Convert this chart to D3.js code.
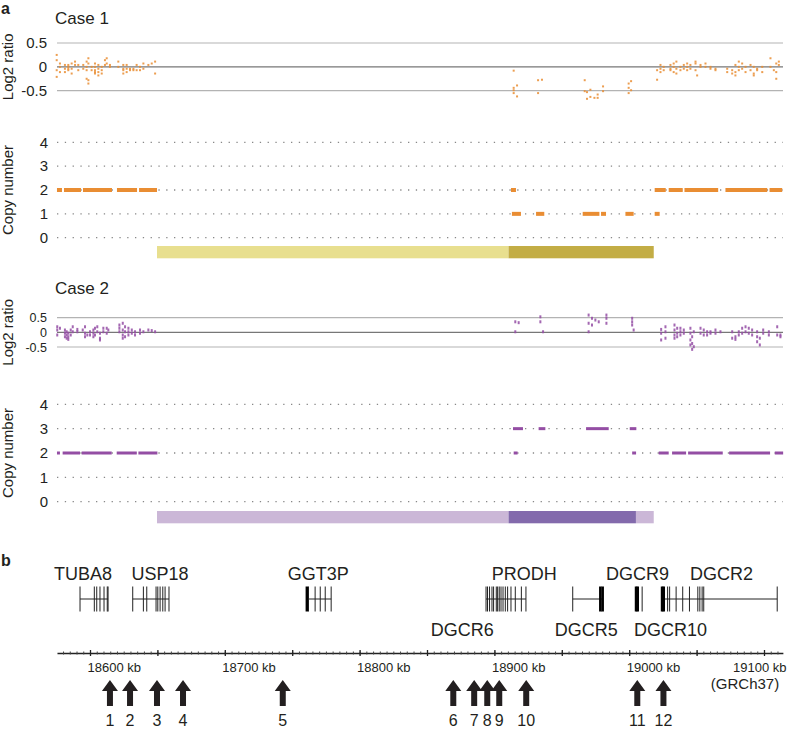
<!DOCTYPE html>
<html>
<head>
<meta charset="utf-8">
<script src="https://cdn.jsdelivr.net/npm/d3@7"></script>
<style>
  body { margin: 0; background: #fff; }
  svg text { font-family: "Liberation Sans", Arial, sans-serif; fill: #231f20; }
</style>
</head>
<body>
<div id="chart"></div>
<script>
// chart size
var svgWidth = 787;
var svgHeight = 732;

// log2 ratio probes, case 1 : [kb, values...]
var case1Log2 = [
  [18575.3, 0.25, 0.14, -0.07, -0.21], [18577.7, 0.07, 0, -0.11], [18581.4, 0.04, -0.04, -0.11],
  [18583.9, 0.04, 0, -0.04, -0.07], [18586.4, 0.07, -0.04, -0.14], [18588.9, 0.11, 0.04],
  [18591.3, 0.04, -0.07], [18595.0, 0.04, -0.04], [18597.5, 0.11, 0, -0.07, -0.25],
  [18598.8, 0.18, 0.07, -0.28, -0.35], [18601.2, 0, -0.07], [18603.7, 0.07, 0, -0.07, -0.11, -0.14],
  [18606.2, 0.04, -0.04, -0.11, -0.18], [18608.7, 0, -0.07, -0.14], [18611.1, 0.14, 0.04],
  [18612.4, 0.18, 0.07], [18614.8, 0.04, 0], [18621.0, 0.11, 0], [18624.7, 0.04, -0.04, -0.07, -0.14],
  [18627.2, 0.04, -0.04, -0.11], [18629.7, -0.04, -0.07], [18632.2, -0.04, -0.07], [18634.6, 0.04, -0.07],
  [18637.1, 0, -0.07], [18639.6, 0.07, -0.04], [18643.3, 0.04], [18645.8, 0.07], [18648.3, 0.11, -0.14],
  [18914.3, -0.08, -0.44, -0.49, -0.55], [18916.8, -0.39, -0.62], [18932.4, -0.28, -0.55], [18935.3, -0.27],
  [18967.0, -0.28, -0.51], [18968.7, -0.53, -0.67], [18971.2, -0.48, -0.63], [18974.2, -0.65],
  [18976.6, -0.58, -0.65], [18980.6, -0.41, -0.51], [18999.6, -0.35, -0.44, -0.55], [19001.4, -0.30, -0.49],
  [19020.7, -0.07, -0.27], [19023.2, 0.04, -0.04, -0.11], [19025.6, 0, -0.07], [19030.6, 0.04, -0.04, -0.07],
  [19033.0, 0.07, 0, -0.11], [19035.0, 0.11, -0.04, -0.14], [19038.0, 0, -0.07], [19040.5, 0.04, -0.04],
  [19043.0, 0.07, 0, -0.07], [19045.4, 0.04, -0.04], [19049.2, 0.11, 0.07, -0.07], [19050.4, -0.18],
  [19052.9, 0.04, 0], [19056.6, 0.07, 0], [19060.3, 0, -0.04], [19064.0, -0.04, -0.07],
  [19072.7, -0.04, -0.11], [19076.4, -0.07, -0.14], [19078.8, 0.04, -0.11, -0.18], [19081.3, 0.11, 0, -0.07],
  [19083.8, 0.07, -0.04], [19086.3, 0, -0.11], [19090.0, 0.04, -0.07], [19092.4, 0, -0.14, -0.18],
  [19094.9, -0.04, -0.07], [19098.7, 0, -0.11], [19104.8, 0.18, 0], [19107.3, -0.07],
  [19109.1, 0.07, -0.11, -0.25], [19111.0, 0.11, 0.04]
];

// log2 ratio probes, case 2
var case2Log2 = [
  [18575.7, 0.19, 0.08, -0.09], [18577.7, 0.14], [18581.4, 0.08, -0.03, -0.15], [18582.7, 0.02, -0.09, -0.20],
  [18583.9, -0.03, -0.15, -0.24], [18585.7, 0.08, -0.09], [18587.2, 0.19, 0.02], [18590.6, 0.10, 0.02],
  [18594.6, 0.08], [18596.3, 0.19, -0.03, -0.15], [18598.0, -0.09], [18600.0, 0.02, -0.09],
  [18602.5, 0.08, -0.03, -0.15], [18603.7, 0.14, -0.09], [18605.4, 0.19, 0.02], [18607.4, -0.03, -0.20, -0.26],
  [18609.9, 0.14, 0.02], [18612.4, 0.14, -0.03], [18613.6, 0.08], [18621.8, 0.25, 0.14, 0.02],
  [18624.3, 0.31, 0.08, -0.09, -0.20], [18626.0, 0.19, 0.02, -0.15], [18628.5, 0.14, 0.02, -0.09],
  [18631.0, 0.08, -0.03], [18633.4, 0.02, -0.09], [18637.1, 0.08, -0.03], [18639.6, 0.02],
  [18643.3, 0.08], [18645.8, 0.06], [18648.3, 0.02],
  [18915.5, 0.36, 0.02], [18918.0, 0.33], [18934.1, 0.53, 0.36], [18936.1, 0.02],
  [18969.9, 0.59, 0.31, 0.02], [18972.4, 0.48, 0.25], [18974.9, 0.42], [18977.4, 0.36],
  [18983.1, 0.59, 0.48, 0.31], [19002.2, 0.48, 0.36, 0.25], [19003.3, 0.08],
  [19023.7, 0.10, -0.03, -0.26], [19026.9, 0.19, 0.02, -0.20], [19033.6, 0.25, 0.08, -0.09, -0.20],
  [19035.6, 0.14, -0.03, -0.15], [19038.0, 0.14, 0.02, -0.09], [19040.5, 0.08, -0.03],
  [19045.4, 0.14, -0.03, -0.26, -0.43], [19046.7, -0.15, -0.38, -0.58], [19047.9, 0.02, -0.49],
  [19052.9, 0.14, -0.03], [19055.3, 0.08, -0.09], [19057.8, 0.02, -0.09], [19060.3, 0.02, -0.03],
  [19064.0, 0.08, -0.03], [19067.7, 0.02], [19076.4, 0.02, -0.20], [19078.8, -0.15, -0.24],
  [19081.3, 0.02, -0.09], [19083.8, 0.14, -0.03], [19086.3, 0.19, 0.02], [19088.7, 0.14, -0.03],
  [19091.2, 0.08, -0.09], [19094.9, 0.02, -0.15, -0.32], [19096.9, -0.20, -0.43], [19099.4, 0.08, -0.03],
  [19103.6, 0.02, -0.09], [19109.8, 0.19, -0.09], [19112.2, -0.09, -0.15]
];

// copy number segments [start kb, end kb, copy number]
var case1Cn = [
  [18575.5, 18579.2, 2], [18580.7, 18593.3, 2], [18594.8, 18616.3, 2], [18620.0, 18634.9, 2], [18636.4, 18649.7, 2],
  [18912.3, 18916.0, 2],
  [18913.0, 18919.7, 1], [18930.9, 18937.0, 1], [18965.5, 18977.9, 1], [18979.1, 18982.8, 1],
  [18997.2, 19003.3, 1], [19018.9, 19022.6, 1],
  [19018.9, 19027.1, 2], [19029.3, 19039.7, 2], [19041.0, 19066.0, 2], [19071.4, 19102.4, 2], [19104.1, 19113.5, 2]
];
var case2Cn = [
  [18575.5, 18577.7, 2], [18579.7, 18592.6, 2], [18593.8, 18616.1, 2], [18619.8, 18634.7, 2], [18635.9, 18650.0, 2],
  [18914.3, 18917.2, 2], [19002.2, 19005.1, 2],
  [18913.8, 18921.2, 3], [18932.8, 18937.8, 3], [18968.0, 18984.8, 3], [19000.4, 19005.3, 3],
  [19021.9, 19029.3, 2], [19031.8, 19042.2, 2], [19043.7, 19069.4, 2], [19074.1, 19104.5, 2], [19108.0, 19114.2, 2]
];

// region bars [start kb, end kb, shade]
var case1Bars = [[18649.7, 18910.5, 0], [18910.5, 19018.2, 1]];
var case2Bars = [[18649.7, 18910.5, 0], [18910.5, 19005.0, 1], [19005.0, 19018.2, 0]];

// genes
var geneLines = [[18592.6, 18613.4], [18631.7, 18658.6], [18760.9, 18778.9], [18893.8, 18923.4], [18958.1, 18980.3], [19024.4, 19109.8]];
var exonMarks = [18592.6, 18603.2, 18605.0, 18607.4, 18610.4, 18612.8, 18613.4,
  18631.7, 18639.6, 18642.1, 18649.0, 18650.3, 18652.0, 18654.0, 18655.7, 18658.6,
  18762.1, 18767.0, 18770.8, 18774.5, 18778.9,
  18893.8, 18894.9, 18896.4, 18898.2, 18899.4, 18901.4, 18902.4, 18903.6, 18904.9, 18906.4, 18908.1, 18909.8, 18912.3, 18915.5, 18920.0, 18923.4,
  18958.1, 19009.6,
  19028.5, 19030.0, 19034.8, 19039.7, 19044.7, 19050.9, 19052.4, 19054.1, 19055.3, 19109.8];
var thickMarks = [18760.9, 18978.6, 18980.3, 19005.1, 19006.3, 19024.4, 19025.6];
var geneNames = ["TUBA8", "USP18", "GGT3P", "PRODH", "DGCR9", "DGCR2", "DGCR6", "DGCR5", "DGCR10"];
var geneLabelKb = [18594.8, 18652.0, 18769.3, 18922.2, 19006.1, 19068.4, 18876.2, 18968.2, 19030.6];
var geneLabelRow = [0, 0, 0, 0, 0, 0, 1, 1, 1];

// arrows
var arrowKb = [18614.8, 18629.7, 18649.7, 18669.0, 18743.0, 18869.5, 18885.0, 18894.7, 18903.6, 18923.6, 19006.0, 19025.4];

// axis ticks
var majorTicks = d3.range(18600, 19101, 50);
var minorTicks = d3.range(18580, 19114, 5);

var svg = d3.select("#chart").append("svg")
    .attr("width", svgWidth)
    .attr("height", svgHeight);

var x = d3.scaleLinear().domain([18600, 19100]).range([90, 764]);
var left = 57, right = 783;

var panels = [
  { title: "Case 1", titleY: 24, log2: case1Log2, cn: case1Cn, bars: case1Bars,
    yLog: d3.scaleLinear().domain([-0.5, 0.5]).range([90.7, 43]),
    yCn: d3.scaleLinear().domain([0, 4]).range([237.7, 142.3]),
    barY: 246, color: "#e98d33", ptH: 2, cnH: 4, tickFont: 15, barColors: ["#e8df8f", "#c3ad45"] },
  { title: "Case 2", titleY: 294, log2: case2Log2, cn: case2Cn, bars: case2Bars,
    yLog: d3.scaleLinear().domain([-0.5, 0.5]).range([347, 317.7]),
    yCn: d3.scaleLinear().domain([0, 4]).range([501.7, 404.3]),
    barY: 511, color: "#944ea4", ptH: 3, cnH: 3, tickFont: 12.5, barColors: ["#cbb7d7", "#836aac"] }
];

svg.append("text").attr("x", 1).attr("y", 14).style("font-size", "16px").style("font-weight", "bold").text("a");
svg.append("text").attr("x", 1).attr("y", 566).style("font-size", "16px").style("font-weight", "bold").text("b");

panels.forEach(function(p) {
  svg.append("text").attr("x", 55).attr("y", p.titleY).style("font-size", "17px").text(p.title);

  // log2 grid
  svg.selectAll(null).data([-0.5, 0, 0.5]).enter().append("line")
    .attr("x1", left).attr("x2", right)
    .attr("y1", d => p.yLog(d)).attr("y2", d => p.yLog(d))
    .attr("stroke", d => d === 0 ? "#777" : "#b3b3b3")
    .attr("stroke-width", 1.2);

  var yAxis = svg.append("g").attr("transform", "translate(47,0)")
    .call(d3.axisLeft(p.yLog).tickValues([-0.5, 0, 0.5]).tickSize(0).tickPadding(0)
      .tickFormat(d => d === 0 ? "0" : String(d)));
  yAxis.select(".domain").remove();
  yAxis.selectAll("text").style("font-size", p.tickFont + "px").attr("fill", "#231f20");

  var midLog = (p.yLog(0.5) + p.yLog(-0.5)) / 2;
  svg.append("text").attr("transform", "translate(13," + midLog + ") rotate(-90)")
    .attr("text-anchor", "middle").style("font-size", "15px").text("Log2 ratio");

  // probes
  var pts = [];
  p.log2.forEach(function(r) {
    r.slice(1).forEach(function(v) { pts.push([r[0], v]); });
  });
  svg.selectAll(null).data(pts).enter().append("rect")
    .attr("x", d => x(d[0]) - 1).attr("y", d => p.yLog(d[1]) - p.ptH / 2)
    .attr("width", 2).attr("height", p.ptH)
    .attr("fill", p.color).attr("opacity", 0.85);

  // copy number grid
  svg.selectAll(null).data([0, 1, 2, 3, 4]).enter().append("line")
    .attr("x1", left).attr("x2", right)
    .attr("y1", d => p.yCn(d)).attr("y2", d => p.yCn(d))
    .attr("stroke", "#888").attr("stroke-width", 1.3)
    .attr("stroke-dasharray", "1.3,6.5");

  var cnAxis = svg.append("g").attr("transform", "translate(48,0)")
    .call(d3.axisLeft(p.yCn).tickValues([0, 1, 2, 3, 4]).tickSize(0).tickPadding(0).tickFormat(d3.format("d")));
  cnAxis.select(".domain").remove();
  cnAxis.selectAll("text").style("font-size", "15px").attr("fill", "#231f20");

  var midCn = (p.yCn(0) + p.yCn(4)) / 2;
  svg.append("text").attr("transform", "translate(13," + midCn + ") rotate(-90)")
    .attr("text-anchor", "middle").style("font-size", "15px").text("Copy number");

  svg.selectAll(null).data(p.cn).enter().append("rect")
    .attr("x", d => x(d[0])).attr("y", d => p.yCn(d[2]) - p.cnH / 2)
    .attr("width", d => x(d[1]) - x(d[0])).attr("height", p.cnH)
    .attr("fill", p.color);

  // region bars
  svg.selectAll(null).data(p.bars).enter().append("rect")
    .attr("x", d => x(d[0])).attr("y", p.barY)
    .attr("width", d => x(d[1]) - x(d[0])).attr("height", 12.3)
    .attr("fill", d => p.barColors[d[2]]);
});

// gene models
var geneY = 599;
svg.selectAll(null).data(geneLines).enter().append("line")
  .attr("x1", d => x(d[0])).attr("x2", d => x(d[1]))
  .attr("y1", geneY).attr("y2", geneY)
  .attr("stroke", "#222").attr("stroke-width", 1);
svg.selectAll(null).data(exonMarks).enter().append("line")
  .attr("x1", d => x(d)).attr("x2", d => x(d))
  .attr("y1", geneY - 12.5).attr("y2", geneY + 12.5)
  .attr("stroke", "#222").attr("stroke-width", 1);
svg.selectAll(null).data(thickMarks).enter().append("line")
  .attr("x1", d => x(d)).attr("x2", d => x(d))
  .attr("y1", geneY - 12.5).attr("y2", geneY + 12.5)
  .attr("stroke", "#000").attr("stroke-width", 2.6);
svg.selectAll(null).data(geneNames).enter().append("text")
  .attr("x", (d, i) => x(geneLabelKb[i]))
  .attr("y", (d, i) => geneLabelRow[i] === 0 ? 580 : 636)
  .attr("text-anchor", "middle").style("font-size", "18px")
  .text(d => d);

// genomic axis
var axisY = 653;
var axisScale = x.copy().domain([18575.5, 19114]).range([x(18575.5), x(19114)]);
var gAxis = svg.append("g").attr("transform", "translate(0," + axisY + ")")
  .call(d3.axisBottom(axisScale).tickValues(minorTicks).tickSize(1.5).tickFormat("").tickSizeOuter(0));
gAxis.select(".domain").attr("stroke", "#222").attr("stroke-width", 1.3);
gAxis.selectAll(".tick line").attr("y1", -1.5).attr("stroke", "#444");

var gMajor = svg.append("g").attr("transform", "translate(0," + axisY + ")")
  .call(d3.axisBottom(axisScale).tickValues(majorTicks).tickSize(3).tickSizeOuter(0)
    .tickFormat(d => d % 100 === 0 ? d + " kb" : ""));
gMajor.select(".domain").remove();
gMajor.selectAll(".tick line").attr("y1", -3).attr("stroke", "#222").attr("stroke-width", 1.3);
gMajor.selectAll(".tick text")
  .attr("y", 19).attr("dy", null).attr("x", -3)
  .attr("text-anchor", "start").attr("fill", "#231f20").style("font-size", "13px")
  .filter(d => d === 19100).attr("text-anchor", "end").attr("x", 786 - x(19100));

svg.append("text").attr("x", 745).attr("y", 689).attr("text-anchor", "middle")
  .style("font-size", "15px").text("(GRCh37)");

// arrows
var arrowPath = "M0,0 L8,11 L3,11 L3,26 L-3,26 L-3,11 L-8,11 Z";
svg.selectAll(null).data(arrowKb).enter().append("path")
  .attr("d", arrowPath)
  .attr("transform", d => "translate(" + x(d) + ",680)")
  .attr("fill", "#231f20");
svg.selectAll(null).data(arrowKb).enter().append("text")
  .attr("x", d => x(d)).attr("y", 726)
  .attr("text-anchor", "middle").style("font-size", "16px")
  .text((d, i) => i + 1);
</script>
</body>
</html>
